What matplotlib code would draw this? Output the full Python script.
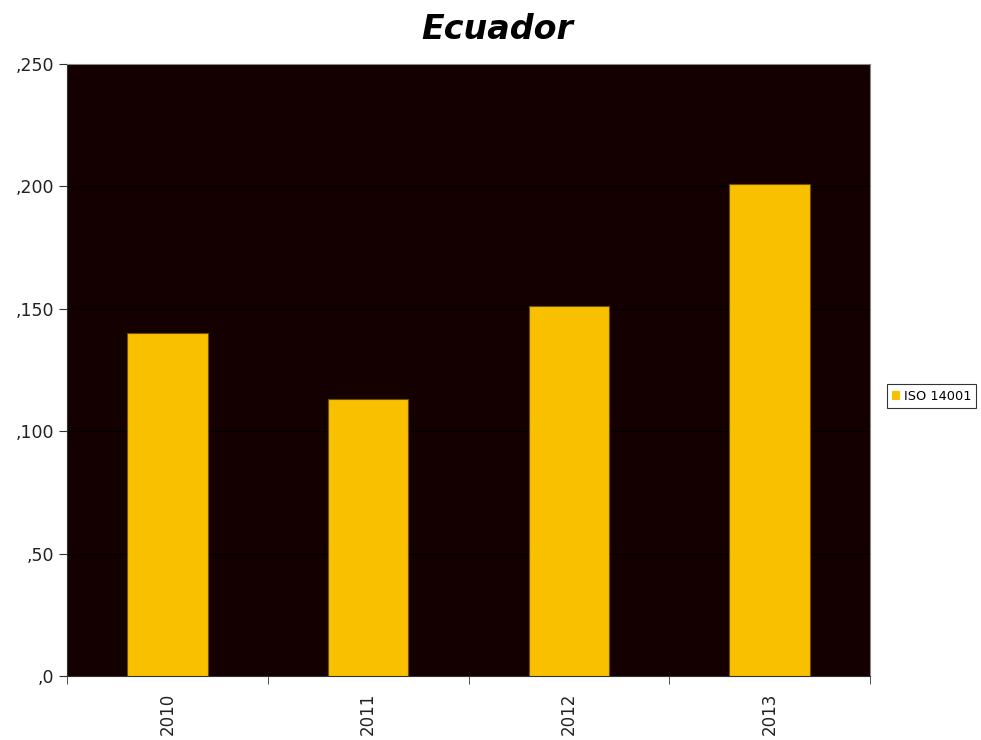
import numpy as np
import matplotlib.pyplot as plt
from matplotlib.ticker import FuncFormatter

years = ['2010', '2011', '2012', '2013']
iso14001 = [140, 113, 151, 201]
series_name = 'ISO 14001'

fig = plt.figure(figsize=(9.81, 7.4), dpi=100)
ax = fig.add_axes([67 / 981, 1 - 676 / 740, 803 / 981, 612 / 740])
ax.set_facecolor('#140000')

x = np.arange(len(years))
ax.bar(x, iso14001, width=0.4, color='#F9C000', edgecolor='#6E5000',
       linewidth=0.8, label=series_name, zorder=3)

ax.set_xlim(-0.5, len(years) - 0.5)
ax.set_ylim(0, 250)
ax.set_yticks(np.arange(0, 251, 50))
ax.yaxis.set_major_formatter(FuncFormatter(lambda v, p: ',%d' % v))
ax.grid(axis='y', color='black', linewidth=1, zorder=1)

# category labels in the middle, tick marks between categories
ax.set_xticks(x)
ax.set_xticklabels(years, rotation=90, fontsize=12, color='#222222')
ax.set_xticks(np.arange(-0.5, len(years)), minor=True)
ax.tick_params(axis='x', which='major', length=0, pad=12)
ax.tick_params(axis='x', which='minor', length=6, color='#333333')
ax.tick_params(axis='y', length=6, labelsize=12.5, labelcolor='#222222', color='#333333')

for s in ax.spines.values():
    s.set_color('#888888')
ax.spines['left'].set_color('#333333')
ax.spines['bottom'].set_color('#333333')

fig.suptitle('Ecuador', x=497 / 981, y=0.983, fontsize=24, fontweight='bold', style='italic')

leg = fig.legend(loc='center left', bbox_to_anchor=(887 / 981, 1 - 396 / 740),
                 fontsize=9.3, frameon=True, fancybox=False, handlelength=0.55,
                 handleheight=0.55, handletextpad=0.35, borderpad=0.4,
                 borderaxespad=0)
leg.get_frame().set_edgecolor('black')
leg.get_frame().set_linewidth(0.8)
for h in leg.legend_handles:
    h.set_edgecolor('#F9C000')

plt.savefig('out.png')
